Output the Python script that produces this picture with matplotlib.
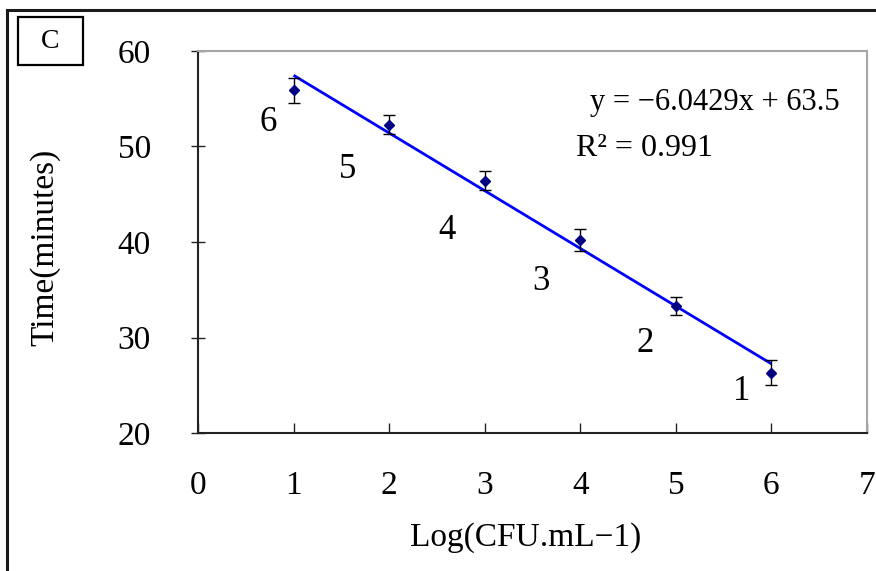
import matplotlib
matplotlib.use("Agg")
import matplotlib.pyplot as plt
from matplotlib.lines import Line2D
from matplotlib.patches import Rectangle
import numpy as np

# Detection time versus bacterial load
log_cfu = [1, 2, 3, 4, 5, 6]
time_min = [55.9, 52.3, 46.4, 40.2, 33.3, 26.3]
time_err = [1.3, 1.0, 1.0, 1.15, 0.9, 1.3]

# Sample numbers written beside each point
point_labels = ["6", "5", "4", "3", "2", "1"]
label_x = [0.73, 1.56, 2.61, 3.59, 4.68, 5.69]
label_y = [52.5, 47.6, 41.2, 35.9, 29.4, 24.3]

# Linear regression
slope = -6.0429
intercept = 63.5
r_squared = 0.991

x_ticks = [0, 1, 2, 3, 4, 5, 6, 7]
y_ticks = [20, 30, 40, 50, 60]

W, H = 876, 571
fig = plt.figure(figsize=(W / 100, H / 100), dpi=100)
fig.patch.set_facecolor("white")

serif = ["Liberation Serif", "DejaVu Serif"]

ax = fig.add_axes([198 / W, 1 - 433 / H, (867 - 198) / W, (433 - 51) / H])
ax.set_xlim(0, 7)
ax.set_ylim(20, 60)

# fitted line across the measured range
fit_x = np.array([min(log_cfu), max(log_cfu)])
fit_y = slope * fit_x + intercept
ax.plot(fit_x, fit_y, color="#0000ff", lw=2.0, zorder=2, solid_capstyle="butt")

ax.errorbar(log_cfu, time_min, yerr=time_err, fmt="D", color="#000080",
            markersize=5.5, ecolor="black", elinewidth=1.0, capsize=4,
            capthick=1.0, zorder=3)

for lab, lx, ly in zip(point_labels, label_x, label_y):
    ax.text(lx, ly, lab, ha="center", va="center", fontsize=25,
            family=serif, color="black")

eq = f"y = \u2212{abs(slope):.4f}x + {intercept:g}"
ax.text(0.773, 0.866, eq, transform=ax.transAxes, ha="center", va="center",
        fontsize=22, family=serif, color="black")
ax.text(0.668, 0.746, f"R\u00b2 = {r_squared:.3f}", transform=ax.transAxes,
        ha="center", va="center", fontsize=23, family=serif, color="black")

# spines: dark left/bottom, grey top/right
for side in ("left", "bottom"):
    ax.spines[side].set_color("#222222")
    ax.spines[side].set_linewidth(1.5)
for side in ("top", "right"):
    ax.spines[side].set_color("#a6a6a6")
    ax.spines[side].set_linewidth(1.5)

ax.set_xticks(x_ticks)
ax.set_yticks(y_ticks)
ax.set_xticklabels([str(t) for t in x_ticks], family=serif, fontsize=24)
ax.set_yticklabels([str(t) for t in y_ticks], family=serif, fontsize=24)
ax.tick_params(axis="x", direction="in", length=7.5, width=1.0,
               color="#222222", pad=27)
ax.tick_params(axis="y", direction="inout", length=10, width=1.0,
               color="#222222", pad=29)

ax.set_xlabel("Log(CFU.mL\u22121)", family=serif, fontsize=24)
ax.xaxis.set_label_coords(0.49, -0.233)
ax.set_ylabel("Time(minutes)", family=serif, fontsize=24)
ax.yaxis.set_label_coords(-0.206, 0.485)

# outer frame (top and left edges)
fig.add_artist(Line2D([7 / W, 7 / W], [1 - 10 / H, 0], transform=fig.transFigure,
                      color="#1a1a1a", lw=2.2))
fig.add_artist(Line2D([7 / W, 1], [1 - 10 / H, 1 - 10 / H], transform=fig.transFigure,
                      color="#1a1a1a", lw=2.2))

# panel letter box
fig.add_artist(Rectangle((18 / W, 1 - 65 / H), 65 / W, 48 / H,
                         transform=fig.transFigure, fill=False,
                         edgecolor="black", lw=1.6))
fig.text(50.5 / W, 1 - 42 / H, "C", ha="center", va="center", fontsize=20,
         family=serif, color="black")

fig.savefig("out.png", dpi=100, facecolor="white")
